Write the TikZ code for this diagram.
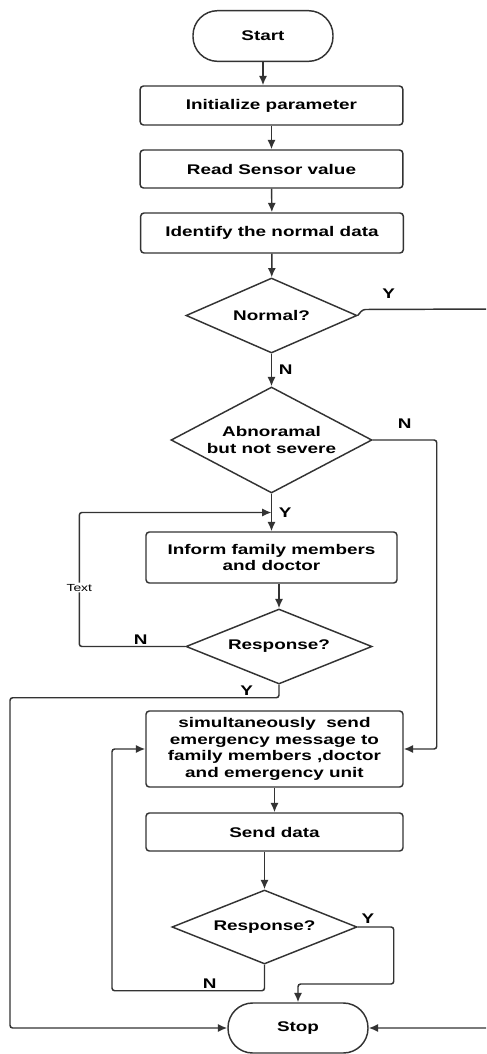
\documentclass[tikz,border=0pt]{standalone}
\usepackage{fontspec}
\setmainfont{Liberation Sans}[FakeStretch=1.35]
\usetikzlibrary{shapes.geometric,arrows.meta}

\tikzset{
    base/.style={draw=black!80, line width=1.1pt, font=\fontsize{10.5}{12.5}\selectfont\bfseries, align=center, inner sep=0pt},
    terminal/.style={base, rectangle, rounded corners=18.5pt, minimum width=105pt, minimum height=38pt},
    process/.style={base, rectangle, rounded corners=2.5pt, minimum width=197pt},
    decision/.style={base, diamond, aspect=2},
    link/.style={draw=black!80, line width=1.1pt, rounded corners=2pt, -{Latex[length=7pt,width=6pt]}},
    yn/.style={font=\fontsize{10.5}{12.5}\selectfont\bfseries, inner sep=1pt},
}

\begin{document}
\begin{tikzpicture}[x=0.75pt, y=-0.75pt]
    \useasboundingbox (0,0) rectangle (486,1054);
    \clip (0,0) rectangle (486,1054);

    % main column
    \node[terminal] (start) at (263,36) {Start};
    \node[process, minimum height=29.25pt] (init) at (271.5,105.5) {Initialize parameter};
    \node[process, minimum height=28.5pt] (read) at (271.5,169) {Read Sensor value};
    \node[process, minimum height=30pt] (ident) at (272,233) {Identify the normal data};

    % decisions
    \node[decision, aspect=2.28, minimum width=128.25pt, minimum height=56.25pt] (normal) at (271.5,315.5) {Normal?};
    \node[decision, aspect=1.9, minimum width=150.75pt, minimum height=79.5pt] (abn) at (271.5,440) {Abnoramal\\but not severe};

    % informing
    \node[process, minimum width=188.25pt, minimum height=38.25pt] (inform) at (271.5,557.5) {Inform family members\\and doctor};
    \node[decision, aspect=2.48, minimum width=139.5pt, minimum height=56.25pt] (resp1) at (279,646.5) {Response?};

    % emergency
    \node[process, minimum width=192.75pt, minimum height=57pt] (simul) at (274.5,749) {simultaneously~~send\\emergency message to\\family members ,doctor\\and emergency unit};
    \node[process, minimum width=192.75pt, minimum height=28.5pt] (send) at (274.5,832) {Send data};
    \node[decision, aspect=2.5, minimum width=138.75pt, minimum height=55.5pt] (resp2) at (264.5,927) {Response?};

    \node[terminal, minimum height=37.5pt] (stop) at (298,1028) {Stop};

    % right side, off the page
    \coordinate (edgeY) at (492,309);
    \coordinate (edgeS) at (492,1028);

    % connectors
    \draw[link] (start) -- (start |- init.north);
    \draw[link] (init) -- (read);
    \draw[link] (read) -- (ident);
    \draw[link] (ident) -- (normal);
    \draw[link] (normal) -- node[right=4pt, yn] {N} (abn);
    \draw[link] (normal.east) -- ++(5,-6) -- node[pos=0.2, above=7pt, yn] {Y} (edgeY) -- (edgeS) -- (stop.east);
    \draw[link] (abn) -- coordinate[midway] (join) node[midway, right=4pt, yn] {Y} (abn |- inform.north);
    \draw[link] (abn.east) -- node[midway, above=7pt, yn] {N} ++(64,0) |- (simul.east);
    \draw[link] (resp1 |- inform.south) -- (resp1);
    \draw[link] (resp1.west) -- node[pos=0.42, above, yn] {N} ++(-106,0)
        |- node[pos=0.22, fill=white, inner sep=1pt, font=\fontsize{7.7}{9}\selectfont] {Text} (join);
    \draw[link] (resp1.south) -- ++(0,13) -- node[pos=0.12, above, yn] {Y} ++(-269,0) |- (stop.west);
    \draw[link] (simul) -- (send);
    \draw[link] (resp2 |- send.south) -- (resp2);
    \draw[link] (resp2.east) -| node[pos=0.14, above=1pt, yn] {Y} ++(36,57) -| (stop.north);
    \draw[link] (resp2.south) -- ++(0,26) -- node[pos=0.36, above, yn] {N} ++(-152.5,0) |- (simul.west);
\end{tikzpicture}
\end{document}
